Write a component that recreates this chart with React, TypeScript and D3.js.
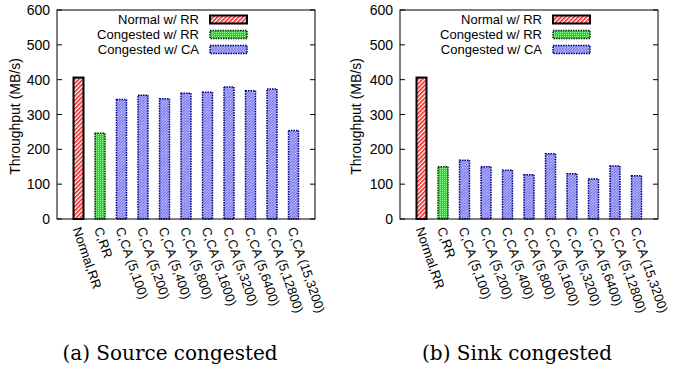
import React, { useEffect, useRef } from 'react';
import * as d3 from 'd3';

// categories on the x axis
const categories = [
  'Normal,RR', 'C,RR', 'C,CA (5,100)', 'C,CA (5,200)', 'C,CA (5,400)', 'C,CA (5,800)',
  'C,CA (5,1600)', 'C,CA (5,3200)', 'C,CA (5,6400)', 'C,CA (5,12800)', 'C,CA (15,3200)',
];
// which series each bar belongs to
const barSeries = [0, 1, 2, 2, 2, 2, 2, 2, 2, 2, 2];
// throughput values (MB/s)
const sourceValues = [406, 246, 343, 355, 345, 361, 364, 379, 368, 373, 254];
const sinkValues = [406, 150, 169, 150, 140, 127, 187, 130, 115, 152, 124];
const seriesNames = ['Normal w/ RR', 'Congested w/ RR', 'Congested w/ CA'];
const yTicks = [0, 100, 200, 300, 400, 500, 600];
const captions = ['(a) Source congested', '(b) Sink congested'];

const W = 673;
const H = 374;
const font = '"Liberation Sans", Arial, Helvetica, sans-serif';

const fills = ['url(#pRed)', 'url(#pGreen)', 'url(#pBlue)'];
const strokes = ['#000000', '#003300', '#000080'];
const strokeWidths = [2, 1.5, 1.5];
const dashes = [null, '1.5,1', '1.5,1'];

const App = () => {
  const ref = useRef<SVGSVGElement>(null);

  useEffect(() => {
    const svg = d3.select(ref.current);
    svg.selectAll('*').remove();

    const defs = svg.append('defs');
    const red = defs.append('pattern').attr('id', 'pRed').attr('patternUnits', 'userSpaceOnUse')
      .attr('width', 3).attr('height', 3).attr('patternTransform', 'rotate(45)');
    red.append('rect').attr('width', 3).attr('height', 3).attr('fill', '#ffffff');
    red.append('rect').attr('width', 1.6).attr('height', 3).attr('fill', '#f02020');

    const green = defs.append('pattern').attr('id', 'pGreen').attr('patternUnits', 'userSpaceOnUse')
      .attr('width', 2).attr('height', 2);
    green.append('rect').attr('width', 2).attr('height', 2).attr('fill', '#22dd22');
    green.append('rect').attr('width', 1).attr('height', 1).attr('fill', '#88ff88');

    const blue = defs.append('pattern').attr('id', 'pBlue').attr('patternUnits', 'userSpaceOnUse')
      .attr('width', 2).attr('height', 2).attr('patternTransform', 'rotate(45)');
    blue.append('rect').attr('width', 2).attr('height', 2).attr('fill', '#d0d0ff');
    blue.append('rect').attr('width', 1).attr('height', 2).attr('fill', '#7070e8');
    blue.append('rect').attr('width', 2).attr('height', 0.6).attr('fill', '#8080ee');

    const panels = [
      { left: 57, values: sourceValues, titleX: 15, caption: captions[0], capX: 170 },
      { left: 400, values: sinkValues, titleX: 356, caption: captions[1], capX: 517 },
    ];
    const top = 10;
    const bottom = 219;
    const pw = 258;

    panels.forEach((p) => {
      const g = svg.append('g');
      const x = d3.scaleLinear().domain([-1, 11]).range([p.left, p.left + pw]);
      const y = d3.scaleLinear().domain([0, 600]).range([bottom, top]);
      const bw = 10;

      // bars
      g.selectAll('.bar')
        .data(p.values)
        .enter()
        .append('rect')
        .attr('x', (d, i) => x(i) - bw / 2)
        .attr('width', bw)
        .attr('y', (d) => y(d))
        .attr('height', (d) => bottom - y(d))
        .attr('fill', (d, i) => fills[barSeries[i]])
        .attr('stroke', (d, i) => strokes[barSeries[i]])
        .attr('stroke-width', (d, i) => strokeWidths[barSeries[i]])
        .attr('stroke-dasharray', (d, i) => dashes[barSeries[i]]);

      // frame
      g.append('rect')
        .attr('x', p.left).attr('y', top)
        .attr('width', pw).attr('height', bottom - top)
        .attr('fill', 'none').attr('stroke', '#000').attr('stroke-width', 1);

      // y ticks inside, mirrored
      yTicks.forEach((t) => {
        g.append('line').attr('x1', p.left).attr('x2', p.left + 5)
          .attr('y1', y(t)).attr('y2', y(t)).attr('stroke', '#000');
        g.append('line').attr('x1', p.left + pw).attr('x2', p.left + pw - 5)
          .attr('y1', y(t)).attr('y2', y(t)).attr('stroke', '#000');
        g.append('text')
          .attr('x', p.left - 7).attr('y', y(t)).attr('dy', '0.36em')
          .attr('text-anchor', 'end')
          .style('font-family', font).style('font-size', '14px')
          .text(t);
      });

      // y title
      g.append('text')
        .attr('transform', `translate(${p.titleX + 5},${(top + bottom) / 2 + 2}) rotate(-90)`)
        .attr('text-anchor', 'middle')
        .style('font-family', font).style('font-size', '14px')
        .text('Throughput (MB/s)');

      // x labels, rotated
      categories.forEach((c, i) => {
        g.append('text')
          .attr('transform', `translate(${x(i) - 6},${bottom + 10}) rotate(71)`)
          .style('font-family', font).style('font-size', '13px')
          .text(c);
      });

      // legend
      seriesNames.forEach((s, k) => {
        const ly = 19.5 + k * 15;
        g.append('text')
          .attr('x', p.left + 142).attr('y', ly).attr('dy', '0.36em')
          .attr('text-anchor', 'end')
          .style('font-family', font).style('font-size', '13px')
          .text(s);
        g.append('rect')
          .attr('x', p.left + 153).attr('y', ly - 4)
          .attr('width', 37).attr('height', 8)
          .attr('fill', fills[k])
          .attr('stroke', strokes[k])
          .attr('stroke-width', strokeWidths[k])
          .attr('stroke-dasharray', dashes[k]);
      });

      // caption
      svg.append('text')
        .attr('x', p.capX).attr('y', 360)
        .attr('text-anchor', 'middle')
        .style('font-family', '"DejaVu Serif", serif').style('font-size', '20px')
        .text(p.caption);
    });
  }, []);

  return (
    <svg
      ref={ref}
      width={W}
      height={H}
      style={{ position: 'absolute', left: 0, top: 0, background: '#fff' }}
    />
  );
};

export default App;
